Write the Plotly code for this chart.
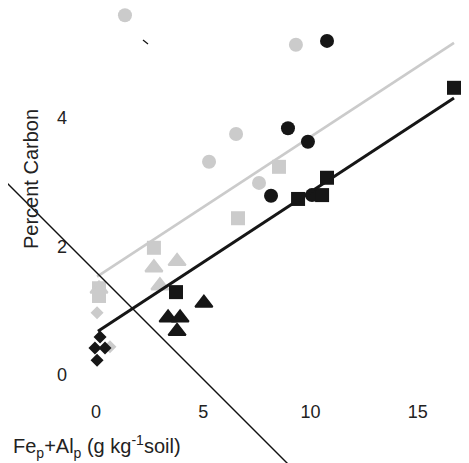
import plotly.graph_objects as go

# ---- data ----
gray_circle_x = [1.35, 9.32, 6.53, 5.27, 7.60]
gray_circle_y = [5.60, 5.14, 3.75, 3.32, 2.99]
black_circle_x = [10.77, 8.95, 9.88, 8.16, 10.07]
black_circle_y = [5.20, 3.84, 3.63, 2.79, 2.80]
gray_square_x = [0.14, 0.14, 2.70, 6.62, 8.53]
gray_square_y = [1.23, 1.35, 1.98, 2.44, 3.24]
black_square_x = [3.73, 9.42, 10.54, 10.77, 16.69]
black_square_y = [1.29, 2.74, 2.80, 3.07, 4.47]
gray_triangle_x = [0.14, 2.70, 3.78, 2.98]
gray_triangle_y = [1.34, 1.67, 1.77, 1.39]
black_triangle_x = [5.03, 3.36, 3.92, 3.78]
black_triangle_y = [1.12, 0.89, 0.89, 0.68]
gray_diamond_x = [0.05, 0.65]
gray_diamond_y = [0.97, 0.44]
black_diamond_x = [0.19, -0.05, 0.42, 0.05]
black_diamond_y = [0.59, 0.42, 0.42, 0.23]
gray_fit_x = [0.05, 16.69]
gray_fit_y = [1.53, 5.17]
black_fit_x = [0.09, 16.69]
black_fit_y = [0.68, 4.31]
x_ticks = [0, 5, 10, 15]
y_ticks = [0, 2, 4]

# ---- layout geometry (reference pixels, compensated for the 8px page margin) ----
OFF = 8
W, H = 469 - OFF, 463 - OFF
L, B = 76 - OFF, 395 - OFF          # plot area left / bottom pixel
x0_px, x_scale = 96 - OFF, 21.45
y0_px, y_scale = 375 - OFF, 64.25
x_range = [(L - x0_px) / x_scale, (W - x0_px) / x_scale]
y_range = [(y0_px - B) / y_scale, y0_px / y_scale]

GRAY = "#cbcbcb"
BLACK = "#161616"

fig = go.Figure()

def pts(x, y, sym, size, color, lw=0):
    fig.add_trace(go.Scatter(x=x, y=y, mode="markers",
                             marker=dict(symbol=sym, size=size, color=color,
                                         line=dict(width=lw, color=color)),
                             cliponaxis=False, showlegend=False, hoverinfo="skip"))

pts(gray_circle_x, gray_circle_y, "circle", 14, GRAY)
pts(gray_square_x, gray_square_y, "square", 14, GRAY)
pts(gray_triangle_x, gray_triangle_y, "triangle-up", 15, GRAY, 2)
pts(gray_diamond_x, gray_diamond_y, "diamond", 10, GRAY)
fig.add_trace(go.Scatter(x=gray_fit_x, y=gray_fit_y, mode="lines",
                         line=dict(color=GRAY, width=2.6), showlegend=False, hoverinfo="skip"))
pts(black_circle_x, black_circle_y, "circle", 14, BLACK)
pts(black_square_x, black_square_y, "square", 14, BLACK)
pts(black_triangle_x, black_triangle_y, "triangle-up", 15, BLACK, 2)
pts(black_diamond_x, black_diamond_y, "diamond", 10, BLACK)
fig.add_trace(go.Scatter(x=black_fit_x, y=black_fit_y, mode="lines",
                         line=dict(color=BLACK, width=3), showlegend=False, hoverinfo="skip"))

def px2paper(px, py):
    # px, py given in reference-image pixels
    return (px - OFF - L) / (W - L), (B - (py - OFF)) / B

# diagonal stray line and small dash
ax0, ay0 = px2paper(7, 183)
ax1, ay1 = px2paper(292, 468)
fig.add_shape(type="line", xref="paper", yref="paper", x0=ax0, y0=ay0, x1=ax1, y1=ay1,
              line=dict(color="#111111", width=1.4))
dx0, dy0 = px2paper(143, 40)
dx1, dy1 = px2paper(148, 44)
fig.add_shape(type="line", xref="paper", yref="paper", x0=dx0, y0=dy0, x1=dx1, y1=dy1,
              line=dict(color="#111111", width=1.3))

font = dict(family="Liberation Sans, Arial, sans-serif", size=18, color="#222222")
title_font = dict(family="Liberation Sans, Arial, sans-serif", size=20, color="#222222")

tx, ty = px2paper(31, 179)
fig.add_annotation(text="Percent Carbon", xref="paper", yref="paper", x=tx, y=ty,
                   textangle=-90, showarrow=False, font=title_font,
                   xanchor="center", yanchor="middle")
lx, ly = px2paper(11, 446)
fig.add_annotation(text="Fe<sub>p</sub>+Al<sub>p</sub> (g kg<sup>-1</sup>soil)",
                   xref="paper", yref="paper", x=lx, y=ly, showarrow=False, font=title_font,
                   xanchor="left", yanchor="middle")

fig.update_layout(
    width=W, height=H,
    margin=dict(l=L, r=0, t=0, b=H - B, pad=0),
    paper_bgcolor="white", plot_bgcolor="white",
    font=font,
    xaxis=dict(range=x_range, tickvals=x_ticks, ticktext=[str(v) for v in x_ticks],
               showgrid=False, zeroline=False, showline=False, ticks="",
               ticklabelstandoff=4, tickfont=font),
    yaxis=dict(range=y_range, tickvals=y_ticks, ticktext=[str(v) for v in y_ticks],
               showgrid=False, zeroline=False, showline=False, ticks="",
               ticklabelstandoff=8, tickfont=font),
)

fig.write_html("out.html")
